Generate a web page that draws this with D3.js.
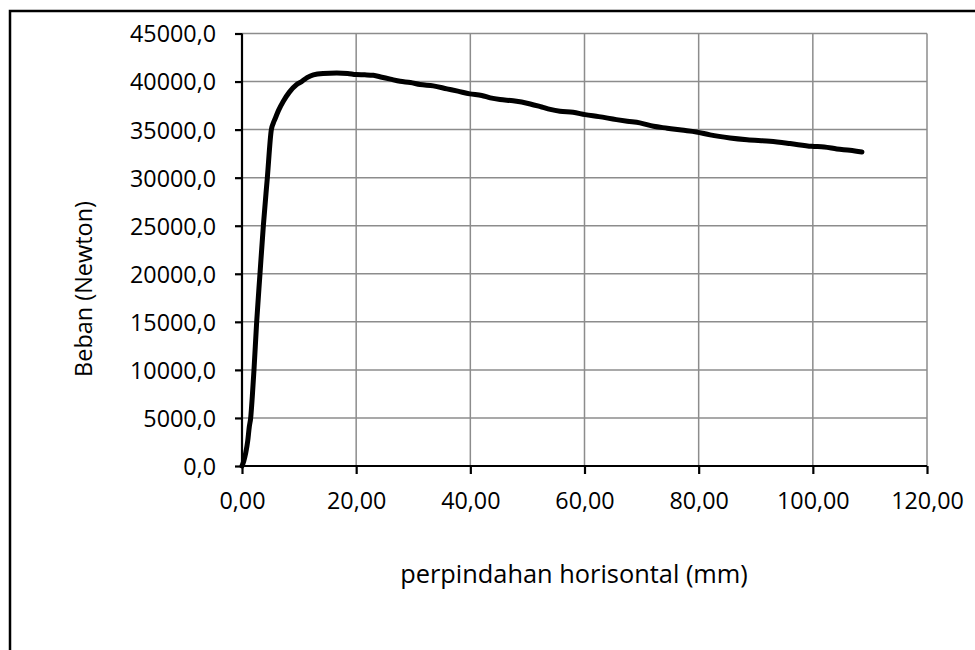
<!DOCTYPE html>
<html>
<head>
<meta charset="utf-8">
<script src="https://cdn.jsdelivr.net/npm/d3@7"></script>
<style>
  html, body { margin: 0; padding: 0; background: #fff; }
  svg { display: block; }
  text { font-family: "Open Sans", "Liberation Sans", sans-serif; fill: #000; }
</style>
</head>
<body>
<svg id="chart" width="975" height="650"></svg>
<script>
// Data
const displacement = [0, 0.3, 0.65, 1.0, 1.28, 1.52, 1.8, 2.1, 2.57, 3.15, 3.74, 4.44, 5.14, 5.5, 5.78, 6.4, 7.24, 8.3, 9.58, 10.45, 11.4, 12.5, 14.2, 16.6, 18.5, 20.0, 21.5, 23.0, 24.5, 26.0, 27.7, 29.5, 31.2, 33.5, 35.9, 37.8, 39.9, 42.0, 43.5, 45.2, 47.5, 50.5, 52.5, 54.0, 55.7, 58.0, 60.1, 62.5, 65.6, 67.5, 69.7, 72.1, 74.5, 77.0, 79.6, 82.0, 85.5, 88.5, 92.5, 96.0, 99.8, 102.0, 104.2, 106.5, 108.6];
const load = [0, 500, 1350, 2600, 4100, 5000, 7200, 10000, 15000, 20000, 25000, 30000, 35000, 35700, 36100, 37000, 37950, 38900, 39690, 40000, 40400, 40700, 40850, 40900, 40850, 40730, 40700, 40650, 40450, 40250, 40030, 39900, 39690, 39550, 39240, 39000, 38715, 38550, 38300, 38125, 38000, 37670, 37350, 37100, 36910, 36800, 36560, 36350, 36040, 35870, 35700, 35345, 35150, 34950, 34760, 34450, 34135, 33950, 33785, 33550, 33260, 33200, 32990, 32850, 32670];
const xTicks = [0, 20, 40, 60, 80, 100, 120];
const yTicks = [0, 5000, 10000, 15000, 20000, 25000, 30000, 35000, 40000, 45000];
const xTitle = "perpindahan horisontal (mm)";
const yTitle = "Beban (Newton)";

const svg = d3.select("#chart");
const plot = { left: 242, right: 927, top: 33.5, bottom: 466 };

const x = d3.scaleLinear().domain([0, 120]).range([plot.left, plot.right]);
const y = d3.scaleLinear().domain([0, 45000]).range([plot.bottom, plot.top]);

const fmtX = v => d3.format(".2f")(v).replace(".", ",");
const fmtY = v => d3.format(".1f")(v).replace(".", ",");

// size a text element so its rendered width matches a target width
function fitWidth(sel, target, base) {
  sel.attr("font-size", base);
  const w = sel.node().getComputedTextLength();
  sel.attr("font-size", base * target / w);
}

// outer chart border (extends past the window on right/bottom)
svg.append("rect")
  .attr("x", 10).attr("y", 11)
  .attr("width", 1100).attr("height", 800)
  .attr("fill", "none").attr("stroke", "#000").attr("stroke-width", 2.5);

// gridlines
svg.append("g")
  .selectAll("line").data(yTicks.filter(d => d > 0)).join("line")
  .attr("x1", plot.left).attr("x2", plot.right)
  .attr("y1", d => y(d)).attr("y2", d => y(d))
  .attr("stroke", "#8c8c8c").attr("stroke-width", 1.5);
svg.append("g")
  .selectAll("line").data(xTicks.filter(d => d > 0)).join("line")
  .attr("x1", d => x(d)).attr("x2", d => x(d))
  .attr("y1", plot.top).attr("y2", plot.bottom)
  .attr("stroke", "#8c8c8c").attr("stroke-width", 1.5);

// axes
const yAxis = svg.append("g")
  .attr("transform", `translate(${plot.left},0)`)
  .call(d3.axisLeft(y).tickValues(yTicks).tickFormat(fmtY).tickSize(7).tickPadding(19));
const xAxis = svg.append("g")
  .attr("transform", `translate(0,${plot.bottom})`)
  .call(d3.axisBottom(x).tickValues(xTicks).tickFormat(fmtX).tickSize(8).tickPadding(12));

[yAxis, xAxis].forEach(g => {
  g.select(".domain").attr("stroke", "#000").attr("stroke-width", 2.2);
  g.selectAll(".tick line").attr("stroke", "#000").attr("stroke-width", 2.2);
  g.selectAll(".tick text").attr("font-family", '"Open Sans", sans-serif').attr("fill", "#000");
});
yAxis.select(".domain").attr("d", `M0,${plot.top}V${plot.bottom}`);
xAxis.select(".domain").attr("d", `M${plot.left},0H${plot.right}`);

// tick label size: "45000,0" is about 86px wide in the reference
const probe = yAxis.selectAll(".tick text").filter(d => d === 45000);
fitWidth(probe, 86, 21);
const tickSize = +probe.attr("font-size");
yAxis.selectAll(".tick text").attr("font-size", tickSize).attr("dy", "0.36em");
xAxis.selectAll(".tick text").attr("font-size", tickSize).attr("dy", null).attr("y", 43);

// data line
const line = d3.line()
  .x((d, i) => x(displacement[i]))
  .y((d, i) => y(load[i]))
  .curve(d3.curveMonotoneX);
svg.append("path")
  .datum(load)
  .attr("d", line)
  .attr("fill", "none")
  .attr("stroke", "#000")
  .attr("stroke-width", 5)
  .attr("stroke-linejoin", "round")
  .attr("stroke-linecap", "round");

// axis titles
const xt = svg.append("text")
  .attr("x", 574).attr("y", 583)
  .attr("text-anchor", "middle")
  .text(xTitle);
fitWidth(xt, 348, 21);
const yt = svg.append("text")
  .attr("transform", "translate(92,289) rotate(-90)")
  .attr("text-anchor", "middle")
  .text(yTitle);
fitWidth(yt, 176, 21);
</script>
</body>
</html>
